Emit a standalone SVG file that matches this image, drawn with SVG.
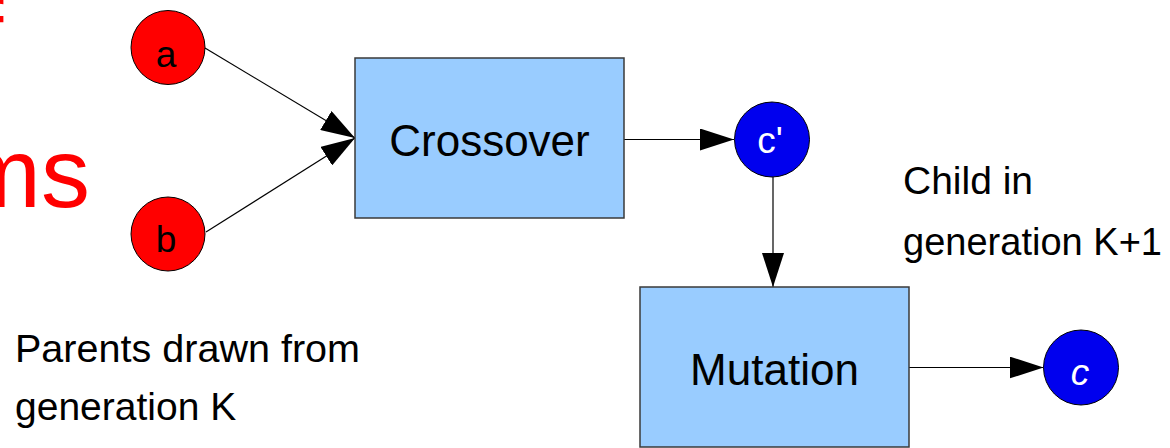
<svg xmlns="http://www.w3.org/2000/svg" width="1170" height="448" viewBox="0 0 1170 448">
  <style>
    .box { fill: #99ccff; stroke: #3a3a3a; stroke-width: 1.5; }
    .parent { fill: #ff0000; stroke: #000; stroke-width: 1; }
    .child { fill: #0000ee; stroke: #000; stroke-width: 1; }
    .edge { stroke: #000; stroke-width: 1.2; fill: none; marker-end: url(#arrow); }
    .lbl { font-family: "Liberation Sans", Arial, sans-serif; fill: #000; }
    .big { font-size: 44px; text-anchor: middle; }
    .note { font-size: 39px; }
    .node { font-size: 37px; text-anchor: middle; }
    .white { fill: #fff; }
    .title { font-family: "Liberation Sans", Arial, sans-serif; fill: #ff0000; font-size: 98px; }
  </style>
  <defs>
    <marker id="arrow" viewBox="0 0 34 22" refX="34" refY="11" markerWidth="34" markerHeight="22" markerUnits="userSpaceOnUse" orient="auto">
      <path d="M0,0 L34,11 L0,22 Z" fill="#000"/>
    </marker>
  </defs>

  <rect width="1170" height="448" fill="#fff"/>

  <!-- heading text running off the left edge -->
  <g id="heading">
    <text class="title" x="-24" y="68">f</text>
    <text class="title" x="90" y="207" text-anchor="end">ms</text>
  </g>

  <!-- connectors -->
  <g id="connectors">
    <line class="edge" x1="205" y1="48" x2="355" y2="138"/>
    <line class="edge" x1="206" y1="232" x2="355" y2="138"/>
    <line class="edge" x1="624" y1="139.5" x2="734" y2="139.5"/>
    <line class="edge" x1="773" y1="177" x2="773" y2="287"/>
    <line class="edge" x1="909" y1="367.5" x2="1043.5" y2="367.5"/>
  </g>

  <g id="parent-a">
    <circle class="parent" cx="168" cy="47.5" r="37"/>
    <text class="lbl node" x="166" y="67">a</text>
  </g>

  <g id="parent-b">
    <circle class="parent" cx="168" cy="234" r="37"/>
    <text class="lbl node" x="166" y="252">b</text>
  </g>

  <g id="crossover">
    <rect class="box" x="355" y="58" width="269" height="160"/>
    <text class="lbl big" x="489.5" y="156">Crossover</text>
  </g>

  <g id="child-prime">
    <circle class="child" cx="772" cy="139.5" r="37.5"/>
    <text class="lbl node white" x="770" y="153">c'</text>
  </g>

  <g id="mutation">
    <rect class="box" x="640" y="287" width="269" height="160"/>
    <text class="lbl big" x="774.5" y="385">Mutation</text>
  </g>

  <g id="child">
    <circle class="child" cx="1081" cy="367.5" r="37.5"/>
    <text class="lbl node white" x="1080" y="385" font-style="italic">c</text>
  </g>

  <g id="note-child">
    <text class="lbl note" x="903" y="194">Child in</text>
    <text class="lbl note" x="903" y="255" textLength="259" lengthAdjust="spacingAndGlyphs">generation K+1</text>
  </g>

  <g id="note-parents">
    <text class="lbl note" x="15" y="362" textLength="345" lengthAdjust="spacingAndGlyphs">Parents drawn from</text>
    <text class="lbl note" x="15" y="420">generation K</text>
  </g>
</svg>
